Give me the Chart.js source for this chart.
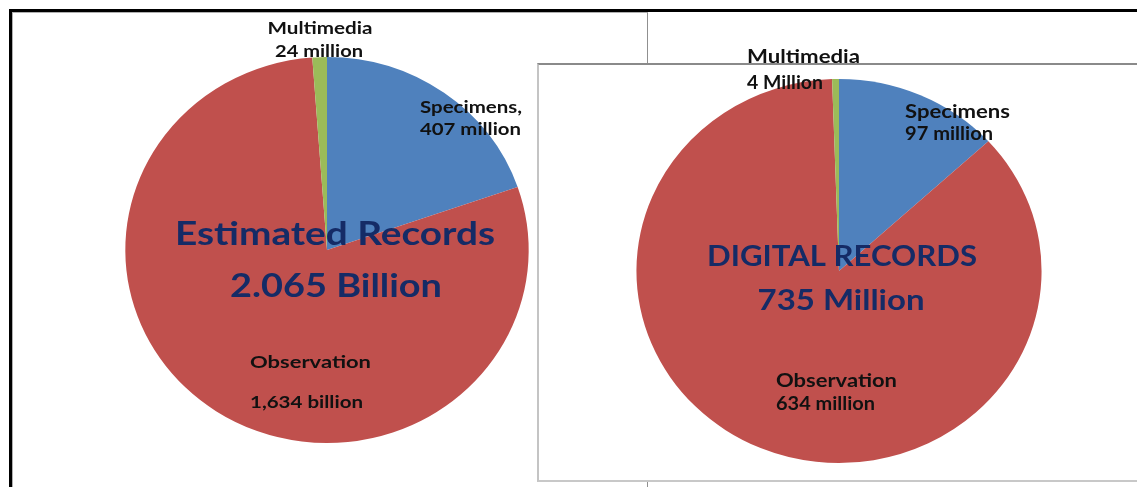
<!DOCTYPE html>
<html>
<head>
<meta charset="utf-8">
<script src="https://cdn.jsdelivr.net/npm/chart.js@4/dist/chart.umd.min.js"></script>
<style>
  html, body { margin: 0; padding: 0; background: #fff; }
  body { width: 1137px; height: 487px; position: relative; overflow: hidden; }
  .frame-top { position: absolute; left: 9px; top: 9px; width: 1128px; height: 3px; background: #000; }
  .frame-left { position: absolute; left: 9px; top: 9px; width: 3px; height: 478px; background: #000; }
  .box-a { position: absolute; left: 12px; top: 12px; width: 634px; height: 490px;
           border-left: 1px solid #b0b0b0; border-top: 1px solid #b0b0b0; border-right: 1px solid #909090;
           background: #fff; }
  .box-b { position: absolute; left: 537px; top: 63px; width: 598px; height: 415px;
           border-top: 2px solid #8a8a8a; border-left: 2px solid #c4c4c4; border-bottom: 2px solid #c8c8c8;
           border-right: 1px solid #e4e4e4; background: #fff; }
  canvas.layer { position: absolute; left: 0; top: 0; }
</style>
</head>
<body>
<div class="box-a"></div>
<div class="box-b"></div>
<div class="frame-top"></div>
<div class="frame-left"></div>
<canvas id="estimated" class="layer" width="1137" height="487"></canvas>
<canvas id="digital" class="layer" width="1137" height="487"></canvas>
<script>
// Record categories and counts (millions)
const categories = ['Specimens', 'Observation', 'Multimedia'];
const estimatedRecords = [407, 1634, 24];
const digitalRecords = [97, 634, 4];
const sliceColors = ['#4F81BD', '#C0504D', '#9BBB59'];

const FONT = 'Lato, "Open Sans", sans-serif';
const LABEL_COLOR = '#111111';
const TITLE_COLOR = '#152B66';

const sum = a => a.reduce((s, v) => s + v, 0);
const fmt = v => v.toLocaleString('en-US');

// Widens the pie slightly around its centre, then draws text blocks
// positioned relative to that centre, each stretched to its set width
const textPlugin = {
  id: 'pieText',
  beforeDatasetsDraw(chart, args, opts) {
    const arc = chart.getDatasetMeta(0).data[0];
    const ctx = chart.ctx;
    ctx.save();
    if (arc && opts.stretchX) {
      ctx.translate(arc.x, arc.y);
      ctx.scale(opts.stretchX, 1);
      ctx.translate(-arc.x, -arc.y);
    }
  },
  afterDatasetsDraw(chart, args, opts) {
    const ctx = chart.ctx;
    ctx.restore();
    const arc = chart.getDatasetMeta(0).data[0];
    if (!arc) return;
    for (const t of opts.items) {
      ctx.save();
      ctx.textBaseline = 'alphabetic';
      ctx.font = t.font;
      ctx.fillStyle = t.color;
      ctx.textAlign = t.align;
      const natural = ctx.measureText(t.text).width;
      const sx = t.w ? t.w / natural : 1;
      ctx.translate(arc.x + t.dx, arc.y + t.dy);
      ctx.scale(sx, 1);
      ctx.fillText(t.text, 0, 0);
      ctx.restore();
    }
  }
};

function makePie(id, values, padding, radius, stretchX, items) {
  return new Chart(document.getElementById(id), {
    type: 'pie',
    data: {
      labels: categories,
      datasets: [{
        data: values,
        backgroundColor: sliceColors,
        borderWidth: 0,
        radius: radius
      }]
    },
    options: {
      responsive: false,
      animation: false,
      events: [],
      layout: { padding: padding },
      plugins: {
        legend: { display: false },
        tooltip: { enabled: false },
        pieText: { items: items, stretchX: stretchX }
      }
    },
    plugins: [textPlugin]
  });
}

const smallA = 'bold 17px ' + FONT;
const titleA = 'bold 32px ' + FONT;
makePie('estimated', estimatedRecords,
  { left: 134, right: 617, top: 57, bottom: 44 }, 193, 1.045, [
    { text: categories[2], dx: -7, dy: -216, w: 105, align: 'center', font: smallA, color: LABEL_COLOR },
    { text: fmt(estimatedRecords[2]) + ' million', dx: -8, dy: -193, w: 88, align: 'center', font: smallA, color: LABEL_COLOR },
    { text: categories[0] + ',', dx: 93, dy: -137, w: 102, align: 'left', font: smallA, color: LABEL_COLOR },
    { text: fmt(estimatedRecords[0]) + ' million', dx: 93, dy: -115, w: 101, align: 'left', font: smallA, color: LABEL_COLOR },
    { text: 'Estimated Records', dx: 8, dy: -5, w: 320, align: 'center', font: titleA, color: TITLE_COLOR },
    { text: (sum(estimatedRecords) / 1000).toFixed(3) + ' Billion', dx: 9, dy: 47, w: 212, align: 'center', font: titleA, color: TITLE_COLOR },
    { text: categories[1], dx: -77, dy: 118, w: 121, align: 'left', font: smallA, color: LABEL_COLOR },
    { text: fmt(estimatedRecords[1]) + ' billion', dx: -77, dy: 158, w: 113, align: 'left', font: smallA, color: LABEL_COLOR }
  ]);

const smallB = 'bold 18px ' + FONT;
const titleB = 'bold 29px ' + FONT;
makePie('digital', digitalRecords,
  { left: 647, right: 106, top: 79, bottom: 24 }, 192, 1.055, [
    { text: categories[2], dx: -92, dy: -208, w: 113, align: 'left', font: smallB, color: LABEL_COLOR },
    { text: fmt(digitalRecords[2]) + ' Million', dx: -92, dy: -182, w: 76, align: 'left', font: smallB, color: LABEL_COLOR },
    { text: categories[0], dx: 66, dy: -153, w: 105, align: 'left', font: smallB, color: LABEL_COLOR },
    { text: fmt(digitalRecords[0]) + ' million', dx: 66, dy: -131, w: 88, align: 'left', font: smallB, color: LABEL_COLOR },
    { text: 'DIGITAL RECORDS', dx: 3, dy: -5, w: 270, align: 'center', font: titleB, color: TITLE_COLOR },
    { text: sum(digitalRecords) + ' Million', dx: 2, dy: 39, w: 167, align: 'center', font: titleB, color: TITLE_COLOR },
    { text: categories[1], dx: -63, dy: 116, w: 121, align: 'left', font: smallB, color: LABEL_COLOR },
    { text: fmt(digitalRecords[1]) + ' million', dx: -63, dy: 139, w: 99, align: 'left', font: smallB, color: LABEL_COLOR }
  ]);
</script>
</body>
</html>
